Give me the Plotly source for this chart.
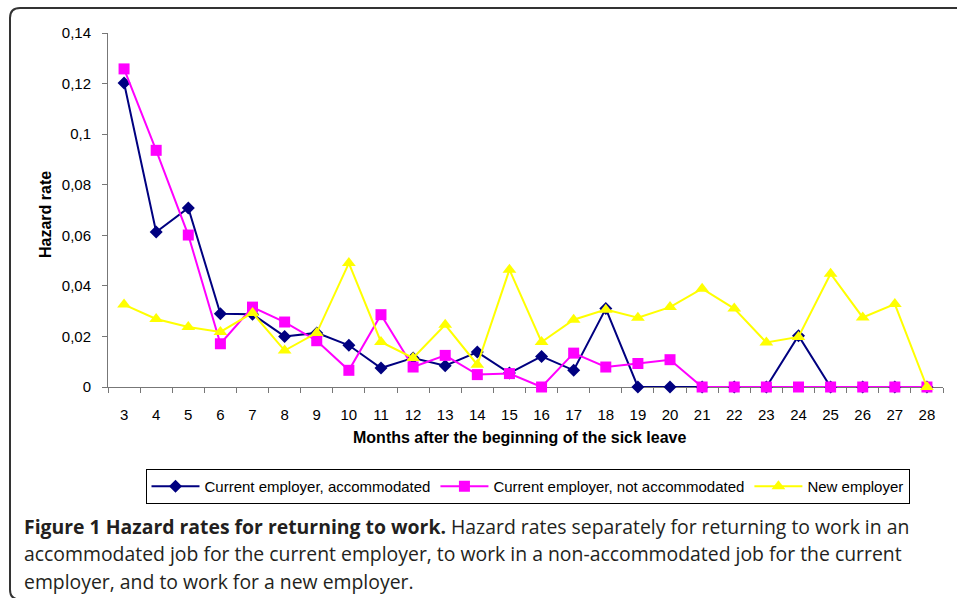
import plotly.graph_objects as go

months = [str(m) for m in range(3, 29)]

accommodated = [0.1202, 0.0613, 0.0708, 0.0290, 0.0288, 0.0200, 0.0214, 0.0165,
                0.0075, 0.0115, 0.0084, 0.0138, 0.0055, 0.0121, 0.0066, 0.0310,
                0.0, 0.0, 0.0, 0.0, 0.0, 0.0203, 0.0, 0.0, 0.0, 0.0]

not_accommodated = [0.1258, 0.0936, 0.0601, 0.0171, 0.0316, 0.0257, 0.0183, 0.0066,
                    0.0286, 0.0079, 0.0125, 0.0049, 0.0053, 0.0, 0.0134, 0.0079,
                    0.0093, 0.0108, 0.0, 0.0, 0.0, 0.0, 0.0, 0.0, 0.0, 0.0]

new_employer = [0.0326, 0.0269, 0.0237, 0.0218, 0.0293, 0.0144, 0.0214, 0.0490,
                0.0178, 0.0115, 0.0246, 0.0088, 0.0464, 0.0178, 0.0266, 0.0306,
                0.0274, 0.0316, 0.0389, 0.0310, 0.0176, 0.0198, 0.0448, 0.0275,
                0.0328, 0.0]

y_tickvals = [0, 0.02, 0.04, 0.06, 0.08, 0.10, 0.12, 0.14]
y_ticktext = ["0", "0,02", "0,04", "0,06", "0,08", "0,1", "0,12", "0,14"]

series_names = ["Current employer, accommodated",
                "Current employer, not accommodated",
                "New employer"]

W, H = 957, 598
L, R, T, B = 108, 943, 33, 387


def px(x):
    return (x - L) / (R - L)


def py(y):
    return (B - y) / (B - T)


fig = go.Figure()
fig.add_trace(go.Scatter(x=months, y=accommodated, name=series_names[0], mode="lines+markers",
                         line=dict(color="#000080", width=2),
                         marker=dict(symbol="diamond", size=10, color="#000080"),
                         cliponaxis=False))
fig.add_trace(go.Scatter(x=months, y=not_accommodated, name=series_names[1], mode="lines+markers",
                         line=dict(color="#FF00FF", width=2),
                         marker=dict(symbol="square", size=11, color="#FF00FF"),
                         cliponaxis=False))
fig.add_trace(go.Scatter(x=months, y=new_employer, name=series_names[2], mode="lines+markers",
                         line=dict(color="#FFFF00", width=2),
                         marker=dict(symbol="triangle-up", size=12, color="#FFFF00"),
                         cliponaxis=False))

axis_font = dict(family="Liberation Sans, Arial, sans-serif", size=15, color="#000000")
title_font = dict(family="Liberation Sans, Arial, sans-serif", size=16, color="#000000")

# rounded frame
x0, x1 = px(10), px(980)
y0, y1 = py(8), py(599.5)
rx = 10 / (R - L)
ry = 10 / (B - T)
frame = (f"M {x1},{y0} L {x0 + rx},{y0} Q {x0},{y0} {x0},{y0 - ry} "
         f"L {x0},{y1 + ry} Q {x0},{y1} {x0 + rx},{y1} L {x1},{y1}")

cap_font = dict(family="Open Sans, sans-serif", size=19.4, color="#231f20")
caption_lines = [
    "<b>Figure 1 Hazard rates for returning to work.</b> Hazard rates separately for returning to work in an",
    "accommodated job for the current employer, to work in a non-accommodated job for the current",
    "employer, and to work for a new employer.",
]
caption_y = [526, 553.5, 581]

annotations = [
    dict(text="<b>Months after the beginning of the sick leave</b>", xref="paper", yref="paper",
         x=px(519), y=py(437), xanchor="center", yanchor="middle", showarrow=False,
         font=title_font),
    dict(text="<b>Hazard rate</b>", xref="paper", yref="paper", textangle=-90,
         x=px(45), y=py(215), xanchor="center", yanchor="middle", showarrow=False,
         font=title_font),
]
for line, yc in zip(caption_lines, caption_y):
    annotations.append(dict(text=line, xref="paper", yref="paper", x=px(22), y=py(yc),
                            xanchor="left", yanchor="middle", showarrow=False, font=cap_font))

fig.update_layout(
    width=W, height=H,
    margin=dict(l=L, r=W - R, t=T, b=H - B),
    paper_bgcolor="white", plot_bgcolor="white",
    showlegend=True,
    legend=dict(orientation="h", x=px(527.5), y=py(469), xanchor="center", yanchor="top",
                bordercolor="#000000", borderwidth=1, itemwidth=48,
                font=dict(family="Liberation Sans, Arial, sans-serif", size=15, color="#000000"),
                traceorder="normal", itemclick=False),
    xaxis=dict(type="category", range=[-0.5, 25.5], showline=True, linecolor="#777777",
               linewidth=1, ticks="outside", tickson="boundaries", ticklen=5,
               tickcolor="#777777", showgrid=False, zeroline=False, tickfont=axis_font,
               ticklabelstandoff=14, layer="below traces"),
    yaxis=dict(range=[0, 0.14], showline=True, linecolor="#777777", linewidth=1,
               ticks="outside", ticklen=5, tickcolor="#777777", showgrid=False,
               zeroline=False, tickvals=y_tickvals, ticktext=y_ticktext, tickfont=axis_font,
               ticklabelstandoff=8, layer="below traces"),
    shapes=[dict(type="path", path=frame, xref="paper", yref="paper",
                 line=dict(color="#333333", width=2))],
    annotations=annotations,
)

fig.write_html("out.html", config={"displayModeBar": False},
               post_script="document.body.style.margin='0';document.body.style.overflow='hidden';")
